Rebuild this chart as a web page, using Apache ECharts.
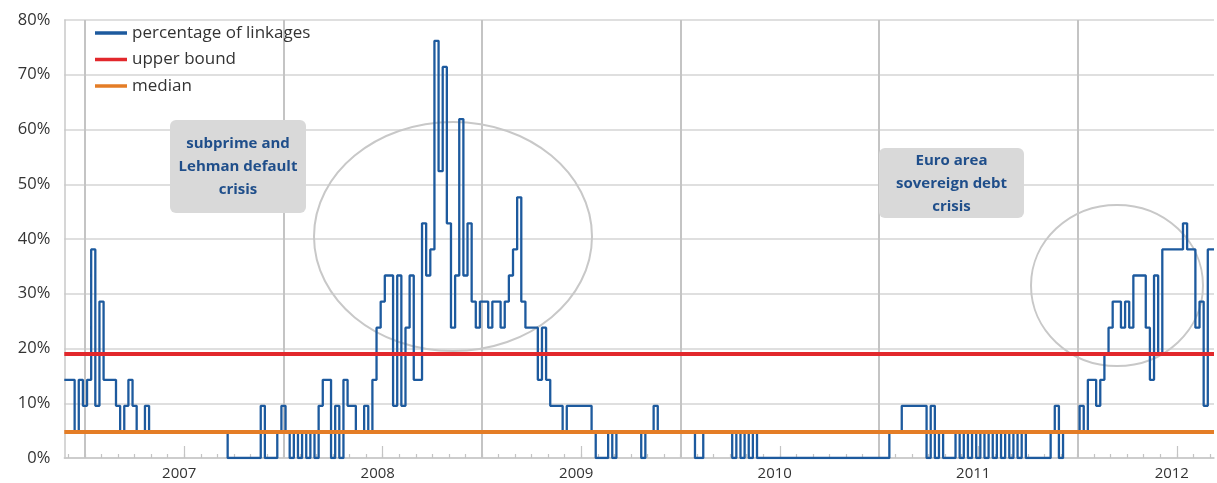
<!DOCTYPE html>
<html>
<head>
<meta charset="utf-8">
<script src="https://cdn.jsdelivr.net/npm/echarts/dist/echarts.min.js"></script>
<style>
html,body{margin:0;padding:0;background:#fff;}
#chart{width:1217px;height:483px;}
</style>
</head>
<body>
<div id="chart"></div>
<script>
// Number of linked pairs (out of 21 possible linkages), one value per ~quarter-month period
const totalLinkages = 21;
const count2006 = [3,3,3,1,3]; // late Nov - Dec 2006
const count2007 = [2,3,8,2,6,3,3,3,2,1, 2,3,2,1,1,2,1,1,1,1, 1,1,1,1,1,1,1,1,1,1, 1,1,1,1,1,0,0,0,0,0, 0,0,0,2,0,0,0,1];
const count2008 = [2,1,0,1,0,1,0,1,0,2, 3,3,0,2,0,3,2,2,1,1, 2,1,3,5,6,7,7,2,7,2, 5,7,3,3,9,7,8,16,11,15, 9,5,7,13,7,9,6,5];
const count2009 = [6,6,5,6,6,5,6,7,8,10, 6,5,5,5,3,5,3,2,2,2, 1,2,2,2,2,2,2,1,0,0, 0,1,0,1,1,1,1,1,1,0, 1,1,2,1,1,1,1,1];
const count2010 = [1,1,1,1,0,0,1,1,1,1, 1,1,1,0,1,0,1,0,1,0, 0,0,0,0,0,0,0,0,0,0, 0,0,0,0,0,0,0,0,0,0, 0,0,0,0,0,0,0,0];
const count2011 = [0,0,0,1,1,1,2,2,2,2, 2,2,0,2,0,1,0,0,0,1, 0,1,0,1,0,1,0,1,0,1, 0,1,0,1,0,1,0,0,0,0, 0,0,1,2,0,1,1,1];
const count2012 = [1,2,1,3,3,2,3,4,5,6, 6,5,6,5,7,7,7,5,3,7, 4,8,8,8,8,8,9,8,8,5, 6,2,8,8];

const upperBoundPct = 19.05;
const medianPct = 4.76;

const yearLabels = ['2007','2008','2009','2010','2011','2012'];
const seriesNames = ['percentage of linkages','upper bound','median'];

// categories: 4 periods per month
const startCats = ['2006-11-4','2006-12-1','2006-12-2','2006-12-3','2006-12-4'];
const counts = [].concat(count2006, count2007, count2008, count2009, count2010, count2011, count2012);
const categories = startCats.slice();
outer:
for (const y of yearLabels) {
  for (let m = 1; m <= 12; m++) {
    for (let w = 1; w <= 4; w++) {
      if (categories.length >= counts.length) break outer;
      categories.push(y + '-' + (m < 10 ? '0' + m : '' + m) + '-' + w);
    }
  }
}
const pctValues = counts.map(c => c / totalLinkages * 100);

const BLUE = '#1d5a9e', RED = '#e2282c', ORANGE = '#e47d26';
const FONT = 'Open Sans';

const chart = echarts.init(document.getElementById('chart'), null, {renderer: 'canvas'});
chart.setOption({
  animation: false,
  textStyle: {fontFamily: FONT},
  grid: {left: 64.3, right: 3, top: 20, bottom: 25, containLabel: false},
  legend: {
    orient: 'vertical', left: 90, top: 19, itemGap: 8.5,
    itemWidth: 32, itemHeight: 3.5, icon: 'rect',
    textStyle: {fontSize: 17, color: '#333', lineHeight: 18, fontFamily: FONT},
    data: seriesNames
  },
  xAxis: [{
    type: 'category', data: categories, boundaryGap: false, position: 'bottom',
    axisLine: {show: true, lineStyle: {color: '#c8c8c8', width: 1.5}},
    axisTick: {show: true, inside: true, length: 4, lineStyle: {color: '#c4c4c4', width: 1.2},
      interval: (i, v) => /-1$/.test(v)},
    axisLabel: {show: false},
    splitLine: {show: true, lineStyle: {color: '#c4c4c4', width: 2},
      interval: (i, v) => /-01-1$/.test(v)}
  }, {
    type: 'category', data: categories, boundaryGap: false, position: 'bottom',
    axisLine: {show: false},
    axisTick: {show: true, inside: true, length: 12, lineStyle: {color: '#c4c4c4', width: 1.2},
      interval: (i, v) => /-07-1$/.test(v)},
    axisLabel: {show: true, interval: (i, v) => /-07-1$/.test(v),
      formatter: v => v.slice(0, 4), fontSize: 15, color: '#333', margin: 8, padding: [0, 10, 0, 0]},
    splitLine: {show: false}
  }],
  yAxis: {
    type: 'value', min: 0, max: 80, interval: 10,
    axisLine: {show: true, lineStyle: {color: '#c8c8c8', width: 1.5}},
    axisTick: {show: false},
    axisLabel: {formatter: '{value}%', fontSize: 16.5, color: '#333', margin: 14},
    splitLine: {show: true, lineStyle: {color: '#d4d4d4', width: 1.5}}
  },
  graphic: [
    {type: 'ellipse', z: 1, shape: {cx: 453, cy: 236.5, rx: 139, ry: 114.5}, style: {fill: 'none', stroke: '#c8c8c8', lineWidth: 2}},
    {type: 'ellipse', z: 1, shape: {cx: 1117, cy: 285.5, rx: 86, ry: 80.5}, style: {fill: 'none', stroke: '#c8c8c8', lineWidth: 2}},
    {type: 'rect', z: 1, shape: {x: 170, y: 120, width: 136, height: 93, r: 6}, style: {fill: '#d9d9d9'}},
    {type: 'text', z: 2, style: {text: 'subprime and\nLehman default\ncrisis', x: 238, y: 167, align: 'center', verticalAlign: 'middle', lineHeight: 23, font: 'bold 15px "Open Sans"', fill: '#1f4e8a'}},
    {type: 'rect', z: 1, shape: {x: 879, y: 148, width: 145, height: 70, r: 6}, style: {fill: '#d9d9d9'}},
    {type: 'text', z: 2, style: {text: 'Euro area\nsovereign debt\ncrisis', x: 951.5, y: 183.5, align: 'center', verticalAlign: 'middle', lineHeight: 23, font: 'bold 15px "Open Sans"', fill: '#1f4e8a'}}
  ],
  series: [{
    name: seriesNames[0], type: 'line', step: 'middle', xAxisIndex: 0, data: pctValues, symbol: 'none', z: 2,
    lineStyle: {color: BLUE, width: 2.3}, itemStyle: {color: BLUE}
  }, {
    name: seriesNames[1], type: 'line', xAxisIndex: 0, data: [], symbol: 'none', z: 4,
    lineStyle: {color: RED, width: 4}, itemStyle: {color: RED},
    markLine: {silent: true, symbol: ['none', 'none'], label: {show: false}, z: 4,
      lineStyle: {color: RED, width: 4, type: 'solid'}, data: [{yAxis: upperBoundPct}]}
  }, {
    name: seriesNames[2], type: 'line', xAxisIndex: 0, data: [], symbol: 'none', z: 4,
    lineStyle: {color: ORANGE, width: 4}, itemStyle: {color: ORANGE},
    markLine: {silent: true, symbol: ['none', 'none'], label: {show: false}, z: 4,
      lineStyle: {color: ORANGE, width: 4, type: 'solid'}, data: [{yAxis: medianPct}]}
  }]
});
</script>
</body>
</html>
